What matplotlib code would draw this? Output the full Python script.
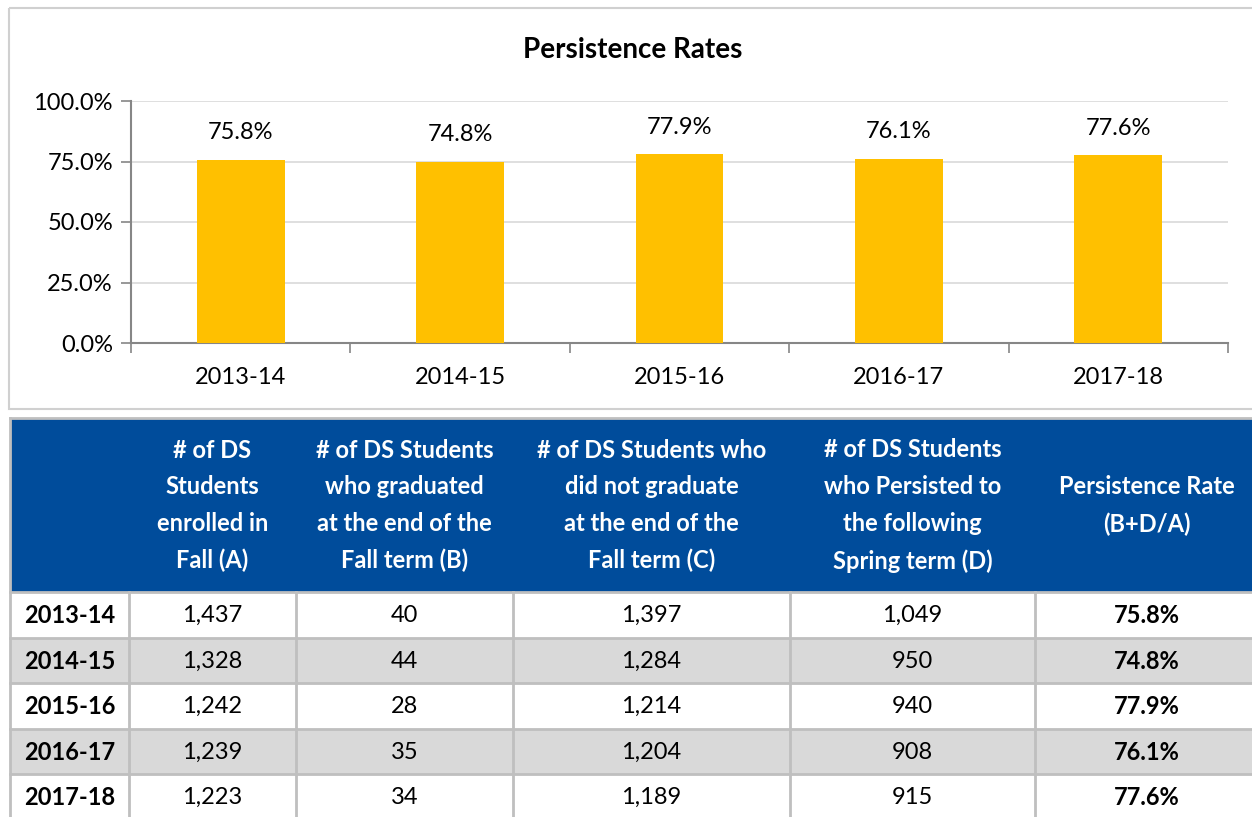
import numpy as np
import matplotlib.pyplot as plt
from matplotlib.patches import Rectangle
from matplotlib.ticker import PercentFormatter

plt.rcParams['font.family'] = ['Lato', 'DejaVu Sans']

years = ['2013-14', '2014-15', '2015-16', '2016-17', '2017-18']
rates = [0.758, 0.748, 0.779, 0.761, 0.776]
enrolled = [1437, 1328, 1242, 1239, 1223]
graduated = [40, 44, 28, 35, 34]
not_graduated = [1397, 1284, 1214, 1204, 1189]
persisted = [1049, 950, 940, 908, 915]

headers = [
    '',
    '# of DS\nStudents\nenrolled in\nFall (A)',
    '# of DS Students\nwho graduated\nat the end of the\nFall term (B)',
    '# of DS Students who\ndid not graduate\nat the end of the\nFall term (C)',
    '# of DS Students\nwho Persisted to\nthe following\nSpring term (D)',
    'Persistence Rate\n(B+D/A)',
]

gold = '#FFC000'
blue = '#004C9B'
grid_c = '#D9D9D9'
axis_c = '#868686'
border_c = '#BFBFBF'
fs = 17

W, H = 1252, 817
fig = plt.figure(figsize=(W / 100, H / 100), dpi=100)

# background layer in pixel coordinates (frames + table)
bg = fig.add_axes([0, 0, 1, 1])
bg.set_xlim(0, W)
bg.set_ylim(H, 0)
bg.axis('off')
bg.add_patch(Rectangle((9, 8), W + 10, 401, fill=False, ec='#D0D0D0', lw=1.5))

# table
col_x = [10, 129, 296, 513, 790, 1035, W + 5]
head_top, head_bot = 419, 592
row_h = 45.5
bg.add_patch(Rectangle((10, head_top), W, head_bot - head_top, fc=blue, ec='none'))
for j, txt in enumerate(headers):
    if not txt:
        continue
    cx = (col_x[j] + col_x[j + 1]) / 2
    if j == 5:
        cx = 1147
    bg.text(cx, (head_top + head_bot) / 2, txt, ha='center', va='center',
            color='white', fontsize=fs, fontweight='bold', linespacing=1.72)

for i, yr in enumerate(years):
    y0 = head_bot + i * row_h
    fc = '#D9D9D9' if i % 2 == 1 else 'white'
    bg.add_patch(Rectangle((10, y0), W, row_h, fc=fc, ec='none'))
    ym = y0 + row_h / 2 + 1
    vals = [f'{enrolled[i]:,}', f'{graduated[i]:,}', f'{not_graduated[i]:,}',
            f'{persisted[i]:,}']
    bg.text(24, ym, yr, ha='left', va='center', fontsize=fs, fontweight='bold')
    for j, v in enumerate(vals):
        cx = (col_x[j + 1] + col_x[j + 2]) / 2
        bg.text(cx, ym, v, ha='center', va='center', fontsize=fs)
    bg.text(1147, ym, f'{rates[i] * 100:.1f}%', ha='center', va='center',
            fontsize=fs, fontweight='bold')
    bg.plot([10, W], [y0, y0], color=border_c, lw=2)
for x in col_x[1:-1]:
    bg.plot([x, x], [head_bot, H], color=border_c, lw=2)
bg.plot([10, 10], [head_top - 1, H], color=border_c, lw=2)
bg.plot([10, W], [head_top - 1, head_top - 1], color=border_c, lw=2)

# chart
x0, x1, yb, yt = 131, 1228, 343, 101
ax = fig.add_axes([x0 / W, 1 - yb / H, (x1 - x0) / W, (yb - yt) / H])
xs = np.arange(len(years))
ax.bar(xs, rates, width=0.4, color=gold, zorder=3)
for x, r in zip(xs, rates):
    ax.annotate(f'{r * 100:.1f}%', (x, r), xytext=(0, 12), textcoords='offset points',
                ha='center', va='bottom', fontsize=fs)

ax.set_xlim(-0.5, len(years) - 0.5)
ax.set_ylim(0, 1)
ax.set_yticks([0, 0.25, 0.5, 0.75, 1.0])
ax.yaxis.set_major_formatter(PercentFormatter(1.0, decimals=1))
ax.set_xticks(xs)
ax.set_xticklabels(years)
ax.set_xticks(np.arange(-0.5, len(years)), minor=True)
ax.tick_params(axis='x', which='major', length=0, pad=17, labelsize=fs)
ax.tick_params(axis='x', which='minor', length=7, width=1.2, color=axis_c)
ax.tick_params(axis='y', length=7, width=1.2, color=axis_c, labelsize=fs, pad=6)
ax.grid(axis='y', color=grid_c, lw=1.2, zorder=0)
for s in ['top', 'right']:
    ax.spines[s].set_visible(False)
for s in ['left', 'bottom']:
    ax.spines[s].set_color(axis_c)
    ax.spines[s].set_linewidth(1.5)
ax.set_axisbelow(True)

fig.text(633 / W, 1 - 50 / H, 'Persistence Rates', ha='center', va='center',
         fontsize=20, fontweight='bold')

fig.savefig('out.png', dpi=100)
